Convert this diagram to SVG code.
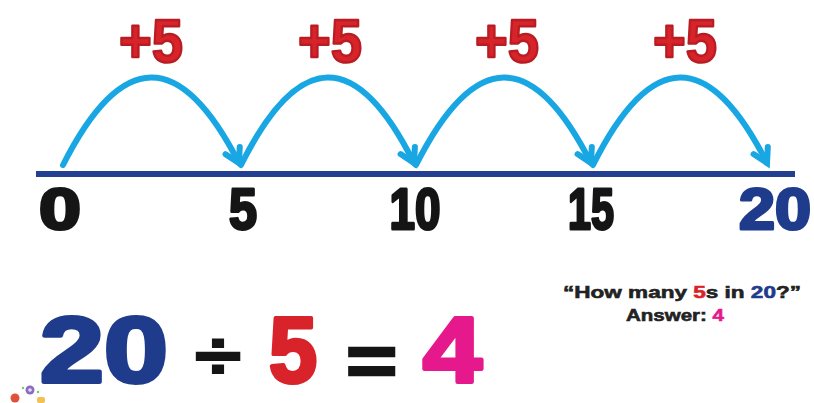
<svg xmlns="http://www.w3.org/2000/svg" width="814" height="403" viewBox="0 0 814 403">
  <style>
    .heavy { font-family: "Liberation Sans", Arial, sans-serif; font-weight: bold; }
    .jump { fill: #d9232b; stroke: #b81d24; stroke-width: 2.5; stroke-linejoin: round; font-size: 62px; text-anchor: middle; }
    .tick { stroke-width: 3; stroke-linejoin: round; font-size: 58px; text-anchor: middle; }
    .ink { fill: #151515; stroke: #151515; }
    .blue { fill: #1f3c8c; stroke: #1f3c8c; }
    .red { fill: #d9232b; stroke: #d9232b; }
    .pink { fill: #e5198b; stroke: #e5198b; }
    .big { font-size: 92px; stroke-width: 4; stroke-linejoin: round; }
    .arc { fill: none; stroke: #19a7e4; stroke-width: 6; stroke-linecap: round; }
    .note { font-size: 17px; fill: #222; stroke: #222; stroke-width: 0.6; text-anchor: middle; }
  </style>
  <defs>
    <marker id="arrow" markerUnits="userSpaceOnUse" markerWidth="30" markerHeight="30" refX="0" refY="0" viewBox="-20 -15 30 30" orient="auto" overflow="visible">
      <path d="M-14,-8 L0,0 L-14,8" fill="none" stroke="#19a7e4" stroke-width="6" stroke-linecap="round" stroke-linejoin="miter"/>
    </marker>
  </defs>
  <rect width="814" height="403" fill="#ffffff"/>

  <g id="number-line">
    <rect x="36" y="171" width="759" height="6" fill="#233f8f"/>
  </g>

  <g id="connectors">
    <path class="arc" d="M63,165 Q151,-9 239,163" marker-end="url(#arrow)"/>
    <path class="arc" d="M241,165 Q328,-9 414,163" marker-end="url(#arrow)"/>
    <path class="arc" d="M416,165 Q504,-9 591,163" marker-end="url(#arrow)"/>
    <path class="arc" d="M593,165 Q680,-9 767,163" marker-end="url(#arrow)"/>
  </g>

  <g id="jump-labels">
    <text class="heavy jump" x="151" y="62" textLength="64" lengthAdjust="spacingAndGlyphs">+5</text>
    <text class="heavy jump" x="330" y="62" textLength="64" lengthAdjust="spacingAndGlyphs">+5</text>
    <text class="heavy jump" x="507" y="62" textLength="64" lengthAdjust="spacingAndGlyphs">+5</text>
    <text class="heavy jump" x="685" y="62" textLength="64" lengthAdjust="spacingAndGlyphs">+5</text>
  </g>

  <g id="tick-0"><text class="heavy tick ink" x="60" y="229" textLength="42" lengthAdjust="spacingAndGlyphs">0</text></g>
  <g id="tick-5"><text class="heavy tick ink" x="243" y="229" textLength="28" lengthAdjust="spacingAndGlyphs">5</text></g>
  <g id="tick-10"><text class="heavy tick ink" x="415" y="229" textLength="51" lengthAdjust="spacingAndGlyphs">10</text></g>
  <g id="tick-15"><text class="heavy tick ink" x="591" y="229" textLength="46" lengthAdjust="spacingAndGlyphs">15</text></g>
  <g id="tick-20"><text class="heavy tick blue" x="775" y="229" textLength="72" lengthAdjust="spacingAndGlyphs">20</text></g>

  <g id="equation">
    <text class="heavy big blue" transform="translate(40,382) scale(1.25,1)" x="0" y="0">20</text>
    <text class="heavy ink" transform="translate(195,379) scale(1.2,0.95)" x="0" y="0" font-size="70" stroke-width="2">÷</text>
    <text class="heavy big red" transform="translate(269,382) scale(0.94,1)" x="0" y="0">5</text>
    <text class="heavy ink" transform="translate(346,385) scale(1,0.83)" x="0" y="0" font-size="88" stroke-width="3">=</text>
    <text class="heavy big pink" transform="translate(423,382) scale(1.15,1)" x="0" y="0">4</text>
  </g>

  <g id="question">
    <text class="heavy note" x="682" y="298" textLength="238" lengthAdjust="spacingAndGlyphs">“How many <tspan class="red">5</tspan>s in <tspan class="blue">20</tspan>?”</text>
    <text class="heavy note" x="675" y="321" textLength="98" lengthAdjust="spacingAndGlyphs">Answer: <tspan class="pink">4</tspan></text>
  </g>

  <g id="corner-logo">
    <circle cx="15" cy="398" r="4.5" fill="#e0503a"/>
    <circle cx="30" cy="390" r="4.5" fill="#8a6cc0"/>
    <circle cx="30" cy="390" r="1.8" fill="#e7defa"/>
    <circle cx="23" cy="388" r="1.2" fill="#7fc36a"/>
    <circle cx="38" cy="392" r="1.2" fill="#7fc36a"/>
    <rect x="37" y="397" width="8" height="6" rx="2" fill="#f2c14e"/>
  </g>
</svg>
